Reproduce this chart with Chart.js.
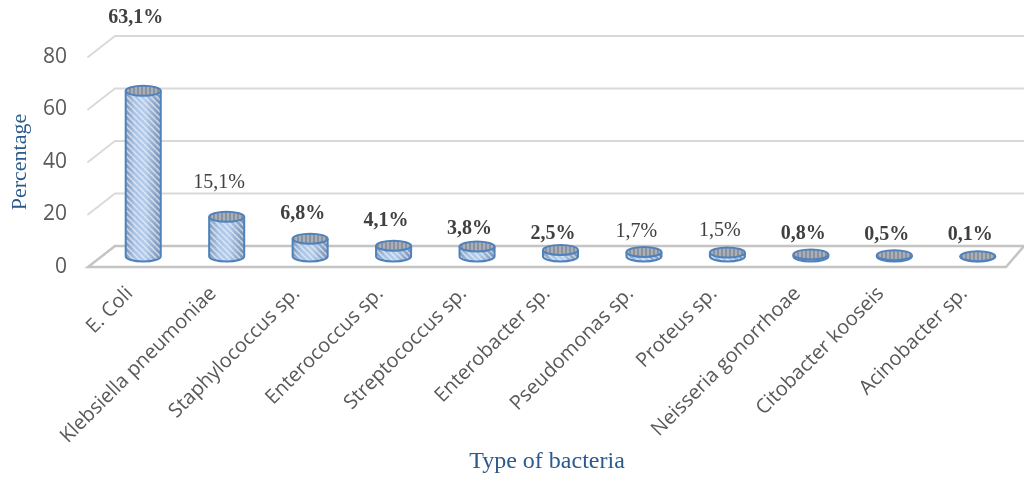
<!DOCTYPE html>
<html>
<head>
<meta charset="utf-8">
<script src="https://cdn.jsdelivr.net/npm/chart.js@4.4.1/dist/chart.umd.min.js"></script>
<style>
  html, body { margin: 0; padding: 0; background: #ffffff; }
  canvas { display: block; }
</style>
</head>
<body>
<canvas id="chart" width="1024" height="479"></canvas>
<script>
// Bacteria isolated and their share of all isolates (%)
const categories = [
  'E. Coli', 'Klebsiella pneumoniae', 'Staphylococcus sp.', 'Enterococcus sp.',
  'Streptococcus sp.', 'Enterobacter sp.', 'Pseudomonas sp.', 'Proteus sp.',
  'Neisseria gonorrhoae', 'Citobacter kooseis', 'Acinobacter sp.'
];
const percentages = [63.1, 15.1, 6.8, 4.1, 3.8, 2.5, 1.7, 1.5, 0.8, 0.5, 0.1];
const yTicks = [0, 20, 40, 60, 80];

// Value label styling (weight and how far each label sits above its cylinder)
const labelBold  = [true, false, true, true, true, true, false, false, true, true, true];
const labelRaise = [73, 34, 25, 25, 18, 16, 20, 22, 21, 20, 21];

// 3-D depth of the plot box: back wall offset from the front plane
const DEPTH_X = 27;
const DEPTH_Y = -21;
const SIDE_X = 18;      // right floor edge (perspective)
const CAP_RY = 5;       // vertical radius of the cylinder caps

const formatPct = v => v.toFixed(1).replace('.', ',') + '%';

function stripePattern(ctx, size, fg, lw, vertical) {
  const c = document.createElement('canvas');
  c.width = size; c.height = size;
  const g = c.getContext('2d');
  g.strokeStyle = fg;
  g.lineWidth = lw;
  g.beginPath();
  if (vertical) {
    g.moveTo(size / 2, 0); g.lineTo(size / 2, size);
  } else {
    for (let k = -1; k <= 1; k++) {
      g.moveTo(k * size, 0);
      g.lineTo(k * size + size, size);
    }
  }
  g.stroke();
  return ctx.createPattern(c, 'repeat');
}

function drawCylinder(ctx, cx, top, base, rx, ry) {
  const l = cx - rx, r = cx + rx;

  // body
  const bodyPath = () => {
    ctx.beginPath();
    ctx.moveTo(l, top);
    ctx.lineTo(l, base);
    ctx.ellipse(cx, base, rx, ry, 0, Math.PI, 0, true);
    ctx.lineTo(r, top);
    ctx.closePath();
  };
  const grad = ctx.createLinearGradient(l, 0, r, 0);
  grad.addColorStop(0, '#8199b8');
  grad.addColorStop(0.25, '#aac4e6');
  grad.addColorStop(0.55, '#b6cdeb');
  grad.addColorStop(1, '#7890b2');
  bodyPath();
  ctx.fillStyle = grad;
  ctx.fill();
  bodyPath();
  ctx.fillStyle = stripePattern(ctx, 6, 'rgba(236,243,252,0.7)', 1.5, false);
  ctx.fill();

  ctx.strokeStyle = '#4f81bd';
  ctx.lineWidth = 2;
  ctx.beginPath();
  ctx.moveTo(l, top);
  ctx.lineTo(l, base);
  ctx.ellipse(cx, base, rx, ry, 0, Math.PI, 0, true);
  ctx.lineTo(r, top);
  ctx.stroke();

  // cap
  ctx.beginPath();
  ctx.ellipse(cx, top, rx, ry, 0, 0, Math.PI * 2);
  ctx.fillStyle = '#aab0ba';
  ctx.fill();
  ctx.beginPath();
  ctx.ellipse(cx, top, rx, ry, 0, 0, Math.PI * 2);
  ctx.fillStyle = stripePattern(ctx, 4, 'rgba(96,102,114,0.7)', 1.2, true);
  ctx.fill();
  ctx.beginPath();
  ctx.ellipse(cx, top, rx, ry, 0, 0, Math.PI * 2);
  ctx.stroke();
}

// Back wall gridlines and the floor of the 3-D plot box
const boxPlugin = {
  id: 'box3d',
  beforeDatasetsDraw(chart) {
    const { ctx, chartArea: a, scales: { y } } = chart;
    ctx.save();
    ctx.lineCap = 'round';
    ctx.strokeStyle = '#d9d9d9';
    ctx.lineWidth = 1.8;
    yTicks.forEach(v => {
      if (v === 0) return;
      const py = y.getPixelForValue(v);
      ctx.beginPath();
      ctx.moveTo(a.left, py);
      ctx.lineTo(a.left + DEPTH_X, py + DEPTH_Y);
      ctx.lineTo(chart.width, py + DEPTH_Y);
      ctx.stroke();
    });
    const p0 = y.getPixelForValue(0);
    ctx.strokeStyle = '#c4c4c4';
    ctx.lineWidth = 2.5;
    ctx.beginPath();
    ctx.moveTo(chart.width, p0 + DEPTH_Y);
    ctx.lineTo(a.left + DEPTH_X, p0 + DEPTH_Y);
    ctx.lineTo(a.left, p0);
    ctx.lineTo(a.right, p0);
    ctx.lineTo(a.right + SIDE_X, p0 + DEPTH_Y);
    ctx.stroke();
    ctx.restore();
  }
};

// Cylinders and their value labels, placed from the bar elements
const cylinderPlugin = {
  id: 'cylinders',
  afterDatasetsDraw(chart) {
    const { ctx } = chart;
    const meta = chart.getDatasetMeta(0);
    ctx.save();
    meta.data.forEach(bar => {
      const cx = bar.x + DEPTH_X / 2;
      const top = bar.y + DEPTH_Y / 2;
      const base = bar.base + DEPTH_Y / 2;
      drawCylinder(ctx, cx, top, base, bar.width / 2, CAP_RY);
    });
    meta.data.forEach((bar, i) => {
      const top = bar.y + DEPTH_Y / 2;
      ctx.font = (labelBold[i] ? 'bold ' : '') + '20px "Liberation Serif", serif';
      ctx.fillStyle = '#404040';
      ctx.textAlign = 'center';
      ctx.textBaseline = 'middle';
      ctx.fillText(formatPct(percentages[i]), bar.x + 6, top - labelRaise[i]);
    });
    ctx.restore();
  }
};

new Chart(document.getElementById('chart'), {
  type: 'bar',
  data: {
    labels: categories,
    datasets: [{
      label: 'Percentage',
      data: percentages,
      backgroundColor: 'rgba(0,0,0,0)',
      borderWidth: 0,
      categoryPercentage: 1,
      barPercentage: 0.42
    }]
  },
  options: {
    responsive: false,
    animation: false,
    events: [],
    layout: { padding: { top: 57, right: 18, left: 0, bottom: 0 } },
    plugins: {
      legend: { display: false },
      tooltip: { enabled: false }
    },
    scales: {
      x: {
        grid: { display: false, drawTicks: false },
        border: { display: false },
        afterFit: s => { s.height = 212; },
        ticks: {
          autoSkip: false,
          minRotation: 45,
          maxRotation: 45,
          padding: 15,
          color: '#595959',
          font: { family: '"Open Sans", sans-serif', size: 20 }
        },
        title: {
          display: true,
          text: 'Type of bacteria',
          color: '#2b5a8c',
          padding: { top: 0, bottom: 3 },
          font: { family: '"Liberation Serif", serif', size: 24 }
        }
      },
      y: {
        min: 0,
        max: 80,
        grid: { display: false, drawTicks: false },
        border: { display: false },
        afterFit: s => { s.width = 88; },
        afterBuildTicks: s => { s.ticks = yTicks.map(v => ({ value: v })); },
        ticks: {
          padding: 21,
          color: '#595959',
          font: { family: '"Open Sans", sans-serif', size: 21 }
        },
        title: {
          display: true,
          text: 'Percentage',
          color: '#2b5a8c',
          padding: { top: 7, bottom: 0 },
          font: { family: '"Liberation Serif", serif', size: 22 }
        }
      }
    }
  },
  plugins: [boxPlugin, cylinderPlugin]
});
</script>
</body>
</html>
